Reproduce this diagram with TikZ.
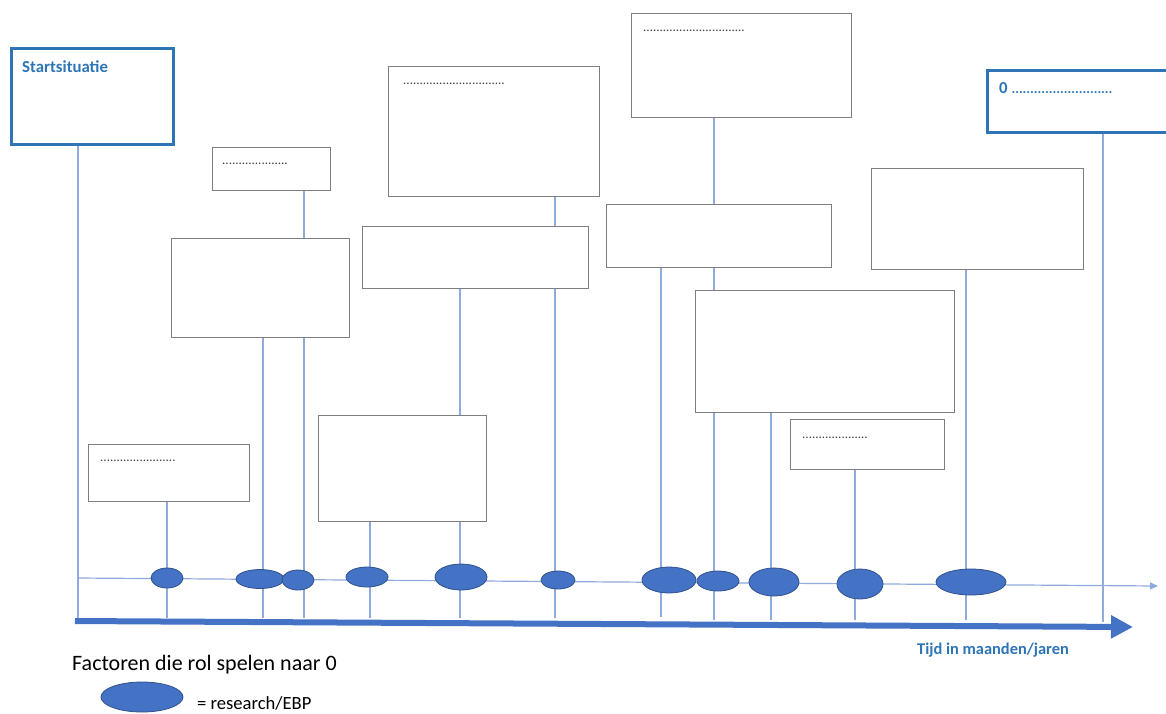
\documentclass[tikz,border=0pt]{standalone}
\usepackage{fontspec}
\setmainfont{Carlito}
\usetikzlibrary{shapes.geometric,arrows.meta}
\definecolor{boxgray}{HTML}{7F7F7F}
\definecolor{tblue}{HTML}{2E75B6}
\definecolor{lineblue}{HTML}{8FAADC}
\definecolor{eblue}{HTML}{4472C4}
\definecolor{eedge}{HTML}{2F528F}
\definecolor{dotgray}{HTML}{404040}
\tikzset{
  bx/.style={draw=boxgray, line width=1.3pt, fill=white, inner sep=0pt, anchor=north west},
  bbx/.style={draw=tblue, line width=3pt, fill=white, inner sep=0pt, anchor=north west},
  ell/.style={ellipse, fill=eblue, draw=eedge, line width=0.8pt, inner sep=0pt},
  vl/.style={draw=lineblue, line width=1.2pt},
  dots/.style={anchor=west, inner sep=0pt, text=dotgray, font=\fontsize{13}{13}\selectfont},
  btitle/.style={anchor=west, inner sep=0pt, text=tblue, font=\fontsize{16.8}{16.8}\selectfont\bfseries},
}
\begin{document}
\begin{tikzpicture}[x=1pt,y=-1pt]
\useasboundingbox (0,0) rectangle (1166,713);
\clip (0,0) rectangle (1166,713);
\fill[white] (0,0) rectangle (1166,713);

% boxes
\node[bbx, minimum width=162pt, minimum height=96pt] (S) at (10,47) {};
\node[bx, minimum width=118pt, minimum height=43pt] (A) at (212,147) {};
\node[bx, minimum width=178pt, minimum height=99pt] (B) at (171,238) {};
\node[bx, minimum width=161pt, minimum height=57pt] (C) at (88,444) {};
\node[bx, minimum width=211pt, minimum height=130pt] (D) at (388,66) {};
\node[bx, minimum width=226pt, minimum height=62pt] (E) at (362,226) {};
\node[bx, minimum width=168pt, minimum height=106pt] (F) at (318,415) {};
\node[bx, minimum width=220pt, minimum height=104pt] (G) at (631,13) {};
\node[bx, minimum width=225pt, minimum height=63pt] (H) at (606,204) {};
\node[bx, minimum width=259pt, minimum height=122pt] (I) at (695,290) {};
\node[bx, minimum width=154pt, minimum height=50pt] (J) at (790,419) {};
\node[bx, minimum width=212pt, minimum height=101pt] (K) at (871,168) {};
\node[bbx, minimum width=200pt, minimum height=62pt] (Z) at (986,69) {};

% texts in boxes
\node[btitle] (tS) at (22,67) {Startsituatie};
\node[btitle] (tZ) at (999,88) {0 {\fontsize{14}{14}\selectfont ...........................}};
\node[dots] (tA) at (222,164) {....................};
\node[dots] (tC) at (100,461) {.......................};
\node[dots] (tD) at (403,84) {...............................};
\node[dots] (tG) at (643,31) {...............................};
\node[dots] (tJ) at (802,438) {....................};

% bottom ends of vertical lines
\coordinate (b0) at (78,620);
\coordinate (b1) at (167,618);
\coordinate (b2) at (263,618);
\coordinate (b3) at (304,618);
\coordinate (b4) at (370,618);
\coordinate (b5) at (460,618);
\coordinate (b6) at (555,618);
\coordinate (b7) at (661,617);
\coordinate (b8) at (714,620);
\coordinate (b9) at (771,620);
\coordinate (b10) at (855,620);
\coordinate (b11) at (966,620);
\coordinate (b12) at (1103,622);

% connectors
\draw[vl] (S.south -| b0) -- (b0);
\draw[vl] (C.south -| b1) -- (b1);
\draw[vl] (B.south -| b2) -- (b2);
\draw[vl] (A.south -| b3) -- (B.north -| b3);
\draw[vl] (B.south -| b3) -- (b3);
\draw[vl] (F.south -| b4) -- (b4);
\draw[vl] (E.south -| b5) -- (F.north -| b5);
\draw[vl] (F.south -| b5) -- (b5);
\draw[vl] (D.south -| b6) -- (E.north -| b6);
\draw[vl] (E.south -| b6) -- (b6);
\draw[vl] (H.south -| b7) -- (b7);
\draw[vl] (G.south -| b8) -- (H.north -| b8);
\draw[vl] (H.south -| b8) -- (I.north -| b8);
\draw[vl] (I.south -| b8) -- (b8);
\draw[vl] (I.south -| b9) -- (b9);
\draw[vl] (J.south -| b10) -- (b10);
\draw[vl] (K.south -| b11) -- (b11);
\draw[vl] (Z.south -| b12) -- (b12);

% thin time line
\coordinate (t0) at (78,578);
\coordinate (t1) at (1158,586);
\draw[vl, -{Triangle[length=8pt,width=7pt]}] (t0) -- (t1);

% thick time arrow
\coordinate (a0) at (75,621);
\coordinate (a1) at (1133,627);
\draw[draw=eblue, line width=6pt, -{Triangle[length=22pt,width=22pt]}] (a0) -- (a1);

% ellipses
\node[ell, minimum width=32pt, minimum height=20pt] (e1) at (167,578) {};
\node[ell, minimum width=48pt, minimum height=19pt] (e2) at (260,579) {};
\node[ell, minimum width=32pt, minimum height=20pt] (e3) at (298,580) {};
\node[ell, minimum width=42pt, minimum height=20pt] (e4) at (367,577) {};
\node[ell, minimum width=52pt, minimum height=26pt] (e5) at (461,577) {};
\node[ell, minimum width=34pt, minimum height=18pt] (e6) at (558,580) {};
\node[ell, minimum width=54pt, minimum height=26pt] (e7) at (669,580) {};
\node[ell, minimum width=42pt, minimum height=20pt] (e8) at (718,581) {};
\node[ell, minimum width=50pt, minimum height=28pt] (e9) at (774,582) {};
\node[ell, minimum width=46pt, minimum height=30pt] (e10) at (860,584) {};
\node[ell, minimum width=70pt, minimum height=26pt] (e11) at (971,582) {};

% labels
\node[btitle, font=\fontsize{16.4}{16.4}\selectfont\bfseries] (tt) at (917,650) {Tijd in maanden/jaren};
\node[anchor=west, inner sep=0pt, font=\fontsize{22}{22}\selectfont] (fac) at (72,665) {Factoren die rol spelen naar 0};
\node[ell, minimum width=82pt, minimum height=30pt] (le) at (142,697) {};
\node[anchor=west, inner sep=0pt, font=\fontsize{18.6}{18.6}\selectfont] (leg) at (197,703) {= research/EBP};
\end{tikzpicture}
\end{document}
